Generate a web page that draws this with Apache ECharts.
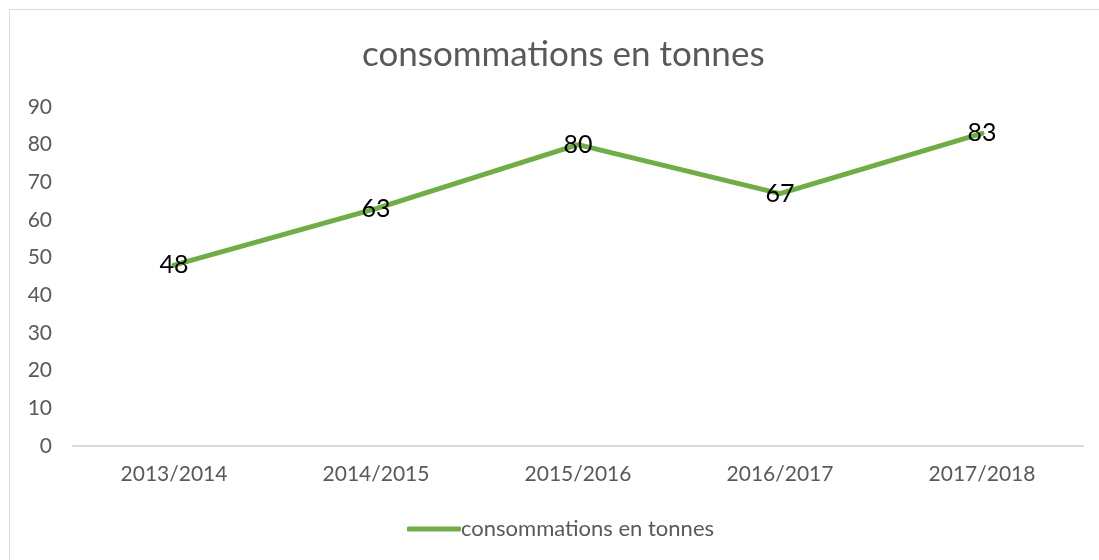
<!DOCTYPE html>
<html>
<head>
<meta charset="utf-8">
<script src="https://cdn.jsdelivr.net/npm/echarts@6/dist/echarts.min.js"></script>
<style>
  html, body { margin: 0; padding: 0; background: #fff; }
  #chart { width: 1099px; height: 560px; }
</style>
</head>
<body>
<div id="chart"></div>
<script>
// données
var categories = ['2013/2014', '2014/2015', '2015/2016', '2016/2017', '2017/2018'];
var values = [48, 63, 80, 67, 83];
var seriesName = 'consommations en tonnes';

var myChart = echarts.init(document.getElementById('chart'));
var option = {
    animation: false,
    textStyle: { fontFamily: 'Lato' },
    graphic: [{ // cadre du graphique
        type: 'rect',
        shape: { x: 9.5, y: 9.5, width: 1110, height: 570 },
        style: { fill: 'none', stroke: '#d9d9d9', lineWidth: 1 },
        silent: true
    }],
    title: {
        text: seriesName,
        left: 357,
        top: 32,
        textStyle: { fontSize: 35, fontWeight: 'normal', color: '#595959', fontFamily: 'Lato' }
    },
    legend: {
        bottom: 15,
        left: 402,
        icon: 'roundRect',
        itemWidth: 54,
        itemHeight: 5,
        itemGap: 0,
        textStyle: { fontSize: 22, color: '#595959', padding: [0, 0, 0, -5] },
        data: [seriesName]
    },
    grid: { left: 73, right: 16, top: 107, bottom: 114 },
    xAxis: {
        type: 'category',
        data: categories,
        axisLine: { lineStyle: { color: '#d9d9d9', width: 2 } },
        axisTick: { show: false },
        axisLabel: { fontSize: 21, color: '#595959', margin: 18 }
    },
    yAxis: {
        type: 'value',
        min: 0,
        max: 90,
        interval: 10,
        axisLine: { show: false },
        axisTick: { show: false },
        splitLine: { show: false },
        axisLabel: { fontSize: 21, color: '#595959', margin: 21 }
    },
    series: [{
        name: seriesName,
        type: 'line',
        data: values,
        symbol: 'circle',
        symbolSize: 1,
        lineStyle: { color: '#70ad47', width: 5, cap: 'round' },
        itemStyle: { color: '#70ad47' },
        label: {
            show: true,
            position: 'inside',
            fontSize: 25,
            color: '#000'
        }
    }]
};
myChart.setOption(option);
</script>
</body>
</html>
